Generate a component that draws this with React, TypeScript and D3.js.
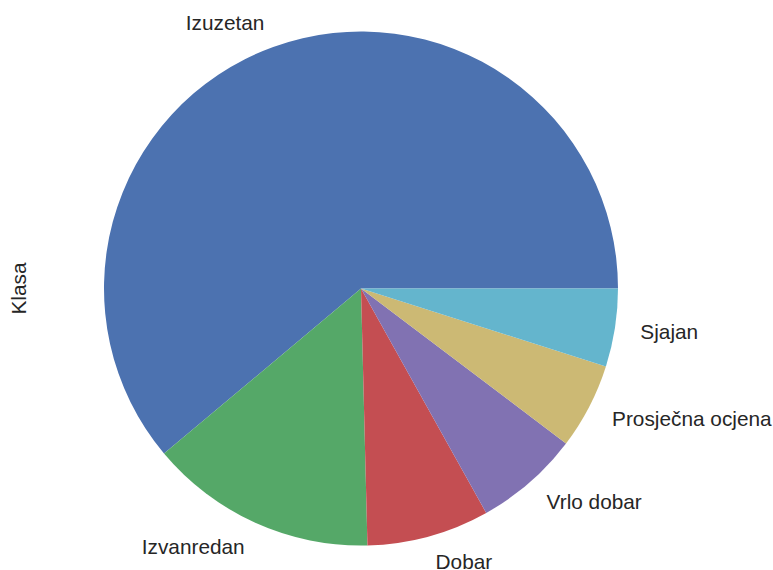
import React from 'react';
import * as d3 from 'd3';

const categories = ['Izuzetan', 'Izvanredan', 'Dobar', 'Vrlo dobar', 'Prosječna ocjena', 'Sjajan'];
const values = [611, 143, 77, 66, 54, 49];
const colors = ['#4C72B0', '#55A868', '#C44E52', '#8172B2', '#CCB974', '#64B5CD'];
const yLabel = 'Klasa';

const width = 773;
const height = 570;
const cx = 361;
const cy = 288.5;
const radius = 257;

const App = () => {
  // matplotlib style: start at 3 o'clock, go counterclockwise
  const pie = d3.pie<number>()
    .sort(null)
    .startAngle(Math.PI / 2)
    .endAngle(Math.PI / 2 - 2 * Math.PI);
  const arcs = pie(values);
  const arc = d3.arc<d3.PieArcDatum<number>>().innerRadius(0).outerRadius(radius);

  return (
    <svg width={width} height={height} style={{ position: 'absolute', left: 0, top: 0 }}
      fontFamily="'Liberation Sans', Arial, sans-serif">
      <rect width={width} height={height} fill="#fff" />
      <g transform={`translate(${cx},${cy})`}>
        {arcs.map((a, i) => (
          <path key={categories[i]} d={arc(a) || ''} fill={colors[i]} />
        ))}
        {arcs.map((a, i) => {
          const mid = (a.startAngle + a.endAngle) / 2;
          const x = 1.1 * radius * Math.sin(mid);
          const y = -1.1 * radius * Math.cos(mid);
          return (
            <text key={categories[i]} x={x} y={y} fontSize={20.8} fill="#262626"
              textAnchor={x > 0 ? 'start' : 'end'} dominantBaseline="central">
              {categories[i]}
            </text>
          );
        })}
      </g>
      <text transform={`translate(26,${cy}) rotate(-90)`} textAnchor="middle"
        fontSize={20.8} fill="#262626">{yLabel}</text>
    </svg>
  );
};

export default App;
